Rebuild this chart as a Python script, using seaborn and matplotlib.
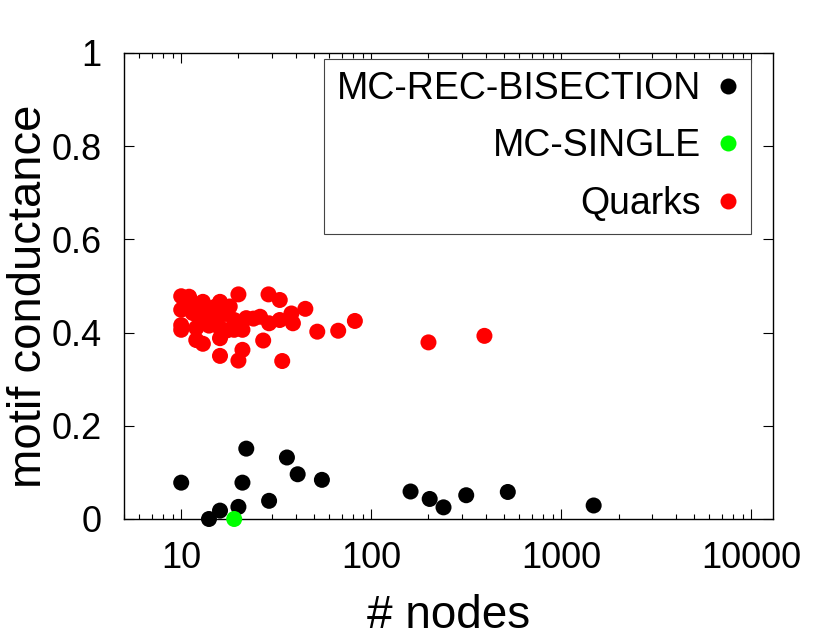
import numpy as np
import pandas as pd
import matplotlib
matplotlib.use("Agg")
import matplotlib.pyplot as plt
from matplotlib.lines import Line2D
from matplotlib.ticker import LogLocator, NullFormatter
import seaborn as sns

# ---- data ----
rec_nodes = [10, 14, 16, 20, 21, 22, 29, 36, 41, 55, 161, 203, 240, 316, 523, 1480]
rec_cond = [0.078, 0.0, 0.018, 0.026, 0.078, 0.151, 0.039, 0.132, 0.096, 0.084,
            0.059, 0.043, 0.025, 0.051, 0.058, 0.029]

single_nodes = [19]
single_cond = [0.0]

quark_nodes = [10, 11, 13, 16, 20, 28.8, 33, 45, 82, 67, 52, 38.7, 38, 33, 29, 26,
               22, 27, 21, 20, 16, 16, 13, 12, 34, 200, 394, 10, 10, 10, 21, 19,
               19, 18, 11.5, 12.5, 14, 15.5, 17, 12, 14, 16, 17.5, 24, 11, 13.5, 15]
quark_cond = [0.478, 0.477, 0.466, 0.466, 0.482, 0.482, 0.470, 0.451, 0.425, 0.404,
              0.402, 0.420, 0.441, 0.427, 0.420, 0.434, 0.431, 0.383, 0.363, 0.340,
              0.350, 0.388, 0.376, 0.384, 0.339, 0.379, 0.393, 0.406, 0.449, 0.416,
              0.406, 0.406, 0.427, 0.456, 0.442, 0.436, 0.436, 0.436, 0.440, 0.410,
              0.415, 0.410, 0.405, 0.430, 0.460, 0.450, 0.455]

series_names = ["MC-REC-BISECTION", "MC-SINGLE", "Quarks"]
series_colors = ["#000000", "#00ff00", "#ff0000"]

x_ticks = [10, 100, 1000, 10000]
x_ticklabels = ["10", "100", "1000", "10000"]
y_ticks = [0, 0.2, 0.4, 0.6, 0.8, 1.0]
y_ticklabels = ["0", "0.2", "0.4", "0.6", "0.8", "1"]

# ---- build table ----
df = pd.concat([
    pd.DataFrame({"nodes": rec_nodes, "cond": rec_cond, "method": series_names[0]}),
    pd.DataFrame({"nodes": single_nodes, "cond": single_cond, "method": series_names[1]}),
    pd.DataFrame({"nodes": quark_nodes, "cond": quark_cond, "method": series_names[2]}),
], ignore_index=True)

sns.set_style("ticks")
plt.rcParams["font.family"] = ["Liberation Sans", "DejaVu Sans"]
plt.rcParams["text.color"] = "black"
plt.rcParams["axes.labelcolor"] = "black"
plt.rcParams["xtick.color"] = "black"
plt.rcParams["ytick.color"] = "black"

fig = plt.figure(figsize=(8.3, 6.42), dpi=100)
ax = fig.add_axes([124 / 830, 1 - 519 / 642, 649 / 830, 466 / 642])

palette = dict(zip(series_names, series_colors))
sns.scatterplot(data=df, x="nodes", y="cond", hue="method", palette=palette,
                s=133, linewidth=0, ax=ax, legend=False, clip_on=False, zorder=3)

ax.set_xscale("log")
ax.set_xlim(5, 13000)
ax.set_ylim(0, 1)
ax.set_xticks(x_ticks)
ax.set_xticklabels(x_ticklabels)
ax.xaxis.set_minor_locator(LogLocator(base=10, subs=np.arange(2, 10)))
ax.xaxis.set_minor_formatter(NullFormatter())
ax.set_yticks(y_ticks)
ax.set_yticklabels(y_ticklabels)

ax.tick_params(which="both", direction="in", top=True, right=True,
               colors="black", labelcolor="black", labelsize=26, pad=16)
ax.tick_params(which="major", length=7, width=0.8)
ax.tick_params(which="minor", length=3.5, width=0.8)
for sp in ax.spines.values():
    sp.set_color("black")
    sp.set_linewidth(1.0)

ax.set_xlabel("# nodes", fontsize=33, color="black")
ax.set_ylabel("motif conductance", fontsize=34, color="black")
ax.xaxis.set_label_coords(0.5, -0.16)
ax.yaxis.set_label_coords(-0.112, 0.477)

handles = [Line2D([], [], linestyle="none", marker="o", markersize=11.5,
                  markerfacecolor=c, markeredgewidth=0) for c in series_colors]
leg = ax.legend(handles, series_names, loc="upper right",
                bbox_to_anchor=(0.966, 0.987), markerfirst=False,
                fontsize=27, frameon=True, fancybox=False, framealpha=1,
                edgecolor="#444444", borderpad=0.32, labelspacing=0.57,
                handlelength=0.6, handletextpad=0.42, borderaxespad=0)
leg.get_frame().set_linewidth(0.8)
for t in leg.get_texts():
    t.set_color("black")

fig.savefig("out.png", dpi=100)
